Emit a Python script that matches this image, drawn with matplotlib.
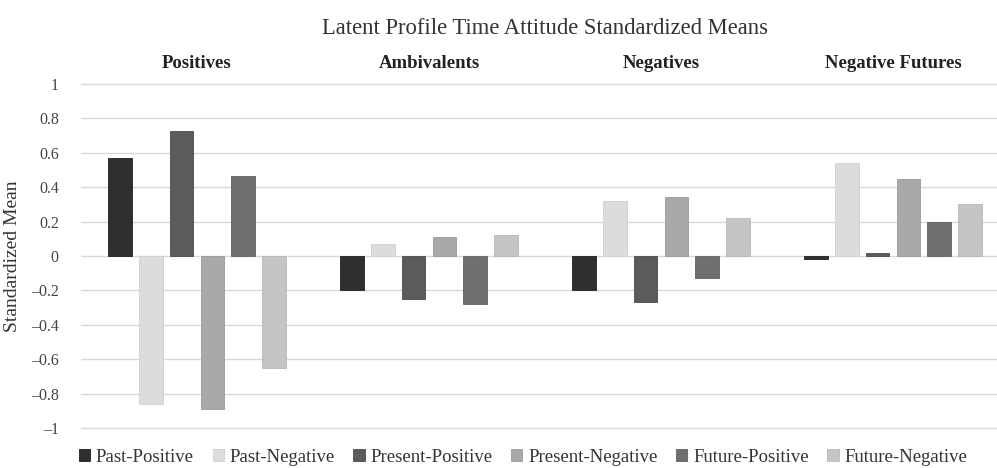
import matplotlib.pyplot as plt
import numpy as np

plt.rcParams['font.family'] = ['Liberation Serif', 'DejaVu Serif']

# profiles and attitude series
groups = ['Positives', 'Ambivalents', 'Negatives', 'Negative Futures']
series = ['Past-Positive', 'Past-Negative', 'Present-Positive',
          'Present-Negative', 'Future-Positive', 'Future-Negative']
past_pos = [0.57, -0.20, -0.20, -0.02]
past_neg = [-0.86, 0.07, 0.32, 0.54]
present_pos = [0.725, -0.25, -0.27, 0.015]
present_neg = [-0.89, 0.11, 0.34, 0.445]
future_pos = [0.465, -0.28, -0.13, 0.20]
future_neg = [-0.65, 0.12, 0.22, 0.30]
y_ticks = [-1, -0.8, -0.6, -0.4, -0.2, 0, 0.2, 0.4, 0.6, 0.8, 1]

values = [past_pos, past_neg, present_pos, present_neg, future_pos, future_neg]
colors = ['#2f2f2f', '#dcdcdc', '#5b5b5b', '#a9a9ab', '#6f6f71', '#c5c5c7']
edges = ['#1e1e1e', '#cfcfcf', '#4a4a4a', '#9a9a9c', '#606062', '#b8b8ba']

fig = plt.figure(figsize=(9.97, 4.68), dpi=100)
ax = fig.add_axes([81 / 997, 0.078, 1 - 81 / 997, 0.75])

x = np.arange(len(groups))
step = 0.1328
width = 0.102
for j, (name, vals) in enumerate(zip(series, values)):
    ax.bar(x + (j - 2.5) * step, vals, width, color=colors[j], edgecolor=edges[j],
           linewidth=0.6, label=name, zorder=3)

ax.set_xlim(-0.5, 3.448)
ax.set_ylim(-1.02, 1.02)
ax.set_yticks(y_ticks)
ax.set_yticklabels([f'{v:g}'.replace('-', '\u2013') for v in y_ticks], fontsize=11.5, color='#444444')
ax.set_xticks([])
ax.tick_params(axis='y', length=0, pad=16)
ax.grid(axis='y', color='#d9d9d9', linewidth=1, zorder=0)
for s in ax.spines.values():
    s.set_visible(False)

ax.set_ylabel('Standardized Mean', fontsize=14, color='#333333', labelpad=7)

for i, g in enumerate(groups):
    ax.text(i, 1.07, g, ha='center', va='bottom', fontsize=13.5, fontweight='bold',
            color='#222222', transform=ax.transData, clip_on=False)

fig.text(545 / 997, 1 - 28 / 468, 'Latent Profile Time Attitude Standardized Means',
         ha='center', va='center', fontsize=16.3, color='#333333')

fig.legend(loc='center', bbox_to_anchor=(523 / 997, 1 - 457 / 468), ncol=6, frameon=False,
           fontsize=13.5, handlelength=0.6, handleheight=0.6, handletextpad=0.3,
           columnspacing=1.0, labelcolor='#333333')

fig.savefig('out.png', dpi=100)
